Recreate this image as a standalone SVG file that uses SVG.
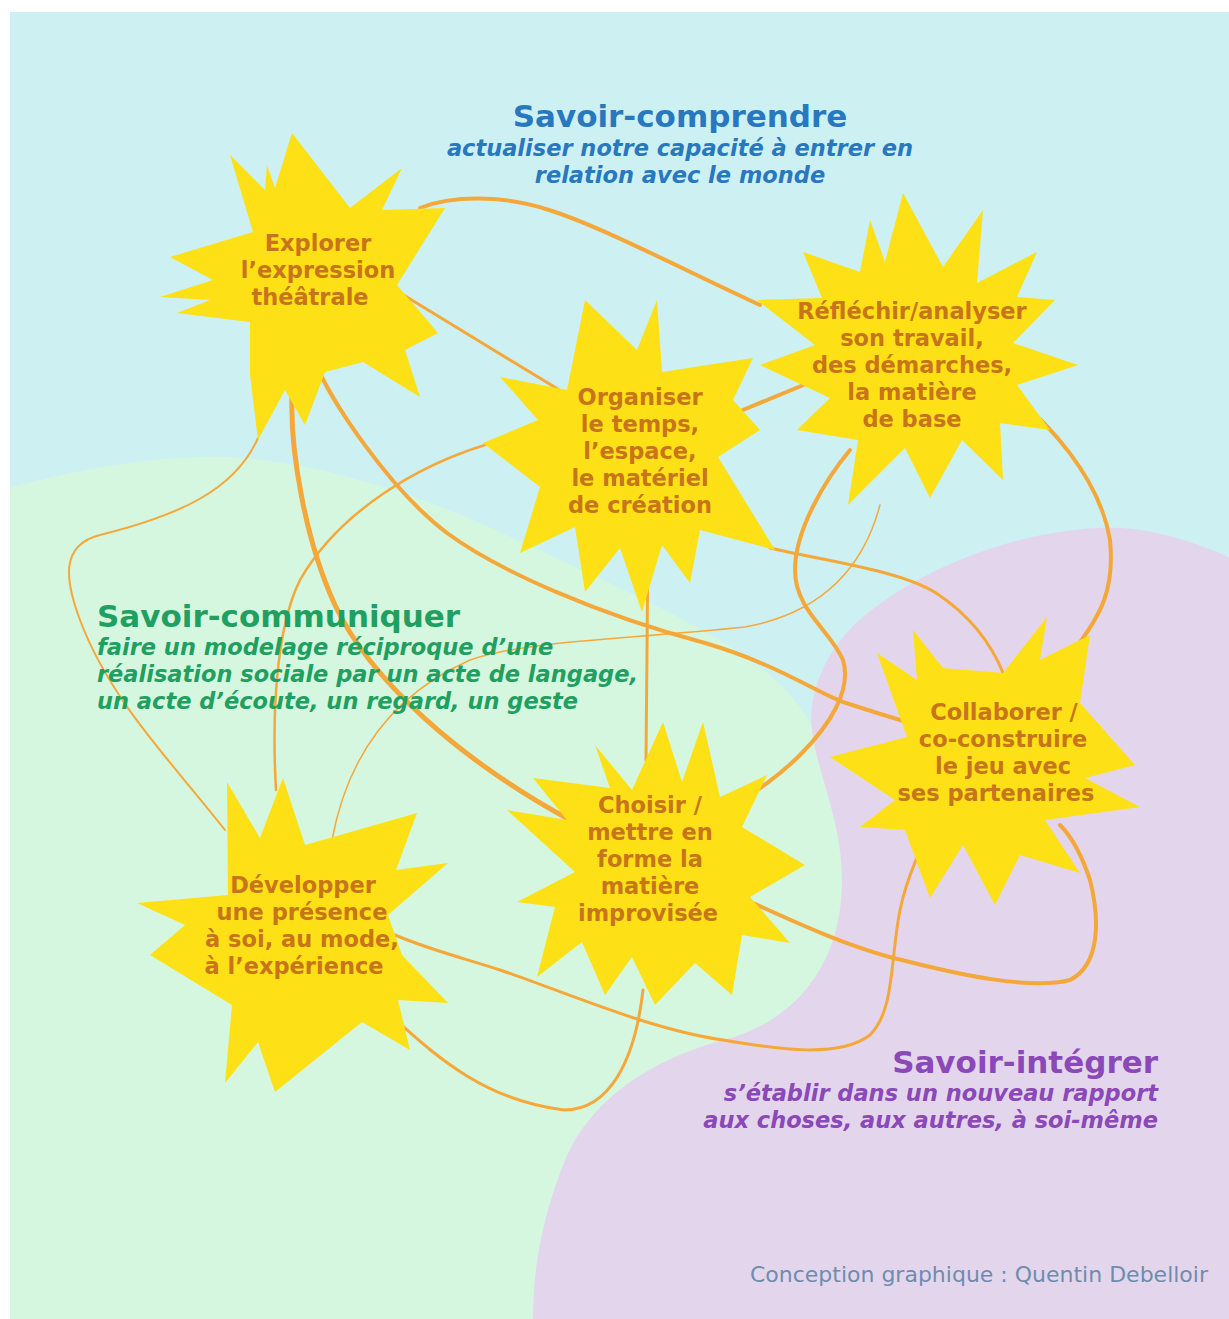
<svg xmlns="http://www.w3.org/2000/svg" width="1229" height="1319" viewBox="0 0 1229 1319">
<style>
.star{fill:#fde016}
.nt{font-family:"DejaVu Sans",sans-serif;font-weight:bold;font-size:22.5px;fill:#c8741a;text-anchor:middle}
.c{fill:none;stroke:#f5a83a;stroke-linecap:round}
.ti{font-family:"DejaVu Sans",sans-serif;font-weight:bold;font-size:31px}
.su{font-family:"DejaVu Sans",sans-serif;font-weight:bold;font-style:italic;font-size:22.5px}
</style>
<rect width="1229" height="1319" fill="#ffffff"/>
<g id="background">
<rect x="10" y="12" width="1219" height="1307" fill="#cdf0f2"/>
<path d="M10,488 C80,468 160,455 230,457 C320,462 420,495 500,532 C600,580 700,620 767,673 C820,715 842,780 842,850 L842,1319 L10,1319 Z" fill="#d5f7e0"/>
<path d="M1229,557 C1180,536 1140,526 1100,528 C1000,532 900,580 852,627 C820,660 808,700 812,730 C816,770 842,820 842,880 C842,960 800,1020 723,1040 C650,1060 590,1100 565,1160 C545,1210 533,1260 533,1319 L1229,1319 Z" fill="#e3d6ec"/>
</g>
<g id="connectors">
<path class="c" stroke-width="4" d="M420,208 C450,196 500,194 549,210 C600,226 680,268 760,305"/>
<path class="c" stroke-width="3" d="M392,288 L566,394"/>
<path class="c" stroke-width="4" d="M830,374 L738,412"/>
<path class="c" stroke-width="4" d="M315,362 C330,400 390,490 447,533 C500,572 600,615 705,643 C780,665 820,695 846,703 C880,714 905,722 925,727"/>
<path class="c" stroke-width="5" d="M292,395 C290,450 305,540 335,605 C370,680 460,760 570,820"/>
<path class="c" stroke-width="2" d="M258,438 C235,490 180,515 100,535 C60,545 65,580 80,620 C110,700 170,760 225,830"/>
<path class="c" stroke-width="2.5" d="M485,445 C420,465 340,510 300,580 C275,630 272,720 276,790"/>
<path class="c" stroke-width="1.5" stroke="#eec08a" d="M332,840 C345,770 380,700 470,660 C530,640 620,640 745,627 C810,615 860,580 880,505"/>
<path class="c" stroke-width="3" d="M648,540 L646,760"/>
<path class="c" stroke-width="3" d="M770,548 C820,560 900,570 936,593 C965,612 990,640 1004,675"/>
<path class="c" stroke-width="4" d="M850,450 C825,480 795,530 795,570 C795,610 830,630 843,660 C852,690 830,725 800,755 C775,780 750,795 730,808"/>
<path class="c" stroke-width="4" d="M998,385 C1050,420 1100,480 1110,540 C1115,590 1100,615 1078,645"/>
<path class="c" stroke-width="3" d="M395,935 C430,950 470,960 500,970 C560,990 650,1030 723,1040 C780,1050 840,1058 870,1035 C895,1010 890,960 900,910 C905,885 912,870 918,855"/>
<path class="c" stroke-width="4" d="M742,898 C790,920 850,948 902,960 C960,975 1030,990 1070,980 C1100,965 1100,920 1090,880 C1080,850 1070,835 1060,825"/>
<path class="c" stroke-width="3" d="M390,1015 C430,1050 480,1100 564,1110 C610,1110 635,1060 643,990"/>
</g>
<g id="explorer">
<polygon class="star" points="292,133 350,208 402,168 382,210 445,208 397,285 438,333 405,350 420,397 363,362 325,372 305,425 285,390 258,440 250,375 250,322 177,313 210,300 160,297 213,280 170,257 253,232 230,155 265,190 267,165 275,188"/>
<text class="nt" x="318" y="251">Explorer</text>
<text class="nt" x="318" y="278">l’expression</text>
<text class="nt" x="310" y="305">théâtrale</text>
</g>
<g id="reflechir">
<polygon class="star" points="903,193 943,267 983,210 977,283 1037,252 1017,297 1055,300 1013,343 1078,365 1017,385 1050,430 1000,423 1003,480 962,440 930,498 905,448 848,505 858,440 797,430 830,398 760,365 815,345 757,300 822,298 803,252 860,272 870,220 885,262"/>
<text class="nt" x="912" y="319">Réfléchir/analyser</text>
<text class="nt" x="912" y="346">son travail,</text>
<text class="nt" x="912" y="373">des démarches,</text>
<text class="nt" x="912" y="400">la matière</text>
<text class="nt" x="912" y="427">de base</text>
</g>
<g id="organiser">
<polygon class="star" points="585,300 637,350 657,300 662,372 753,358 733,400 760,430 718,457 775,550 700,530 690,583 662,545 642,612 620,548 585,592 575,527 520,553 540,487 483,443 538,420 500,377 567,390"/>
<text class="nt" x="640" y="405">Organiser</text>
<text class="nt" x="640" y="432">le temps,</text>
<text class="nt" x="640" y="459">l’espace,</text>
<text class="nt" x="640" y="486">le matériel</text>
<text class="nt" x="640" y="513">de création</text>
</g>
<g id="choisir">
<polygon class="star" points="595,745 632,790 663,722 682,782 703,722 720,797 767,775 742,827 805,865 750,897 790,943 742,935 732,995 695,963 655,1005 632,957 605,995 582,942 537,977 555,907 517,902 575,872 507,810 567,820 533,778 610,788"/>
<text class="nt" x="650" y="813">Choisir /</text>
<text class="nt" x="650" y="840">mettre en</text>
<text class="nt" x="650" y="867">forme la</text>
<text class="nt" x="650" y="894">matière</text>
<text class="nt" x="648" y="921">improvisée</text>
</g>
<g id="collaborer">
<polygon class="star" points="877,653 917,680 913,630 943,668 1003,673 1047,617 1040,660 1090,635 1080,703 1135,765 1085,778 1140,807 1045,820 1080,873 1020,855 995,905 963,845 930,898 905,830 860,827 895,800 830,757 907,737"/>
<text class="nt" x="1004" y="720">Collaborer /</text>
<text class="nt" x="1003" y="747">co-construire</text>
<text class="nt" x="1003" y="774">le jeu avec</text>
<text class="nt" x="996" y="801">ses partenaires</text>
</g>
<g id="developper">
<polygon class="star" points="227,782 260,838 283,778 305,845 417,813 396,870 448,863 388,915 402,955 448,1003 398,1000 410,1050 362,1022 275,1092 258,1042 225,1083 232,1005 150,955 185,925 137,903 228,895"/>
<text class="nt" x="303" y="893">Développer</text>
<text class="nt" x="302" y="920">une présence</text>
<text class="nt" x="302" y="947">à soi, au mode,</text>
<text class="nt" x="294" y="974">à l’expérience</text>
</g>
<g id="labels">
<text class="ti" x="680" y="127" fill="#2878c0" text-anchor="middle">Savoir-comprendre</text>
<text class="su" x="680" y="156" fill="#2878c0" text-anchor="middle">actualiser notre capacité à entrer en</text>
<text class="su" x="680" y="183" fill="#2878c0" text-anchor="middle">relation avec le monde</text>
<text class="ti" x="97" y="627" fill="#1fa060">Savoir-communiquer</text>
<text class="su" x="97" y="655" fill="#1fa060">faire un modelage réciproque d’une</text>
<text class="su" x="97" y="682" fill="#1fa060">réalisation sociale par un acte de langage,</text>
<text class="su" x="97" y="709" fill="#1fa060">un acte d’écoute, un regard, un geste</text>
<text class="ti" x="1158" y="1073" fill="#8a48b8" text-anchor="end">Savoir-intégrer</text>
<text class="su" x="1158" y="1101" fill="#8a48b8" text-anchor="end">s’établir dans un nouveau rapport</text>
<text class="su" x="1158" y="1128" fill="#8a48b8" text-anchor="end">aux choses, aux autres, à soi-même</text>
<text x="1208" y="1282" fill="#6f8cae" text-anchor="end" font-family="DejaVu Sans, sans-serif" font-size="22">Conception graphique : Quentin Debelloir</text>
</g>
</svg>
